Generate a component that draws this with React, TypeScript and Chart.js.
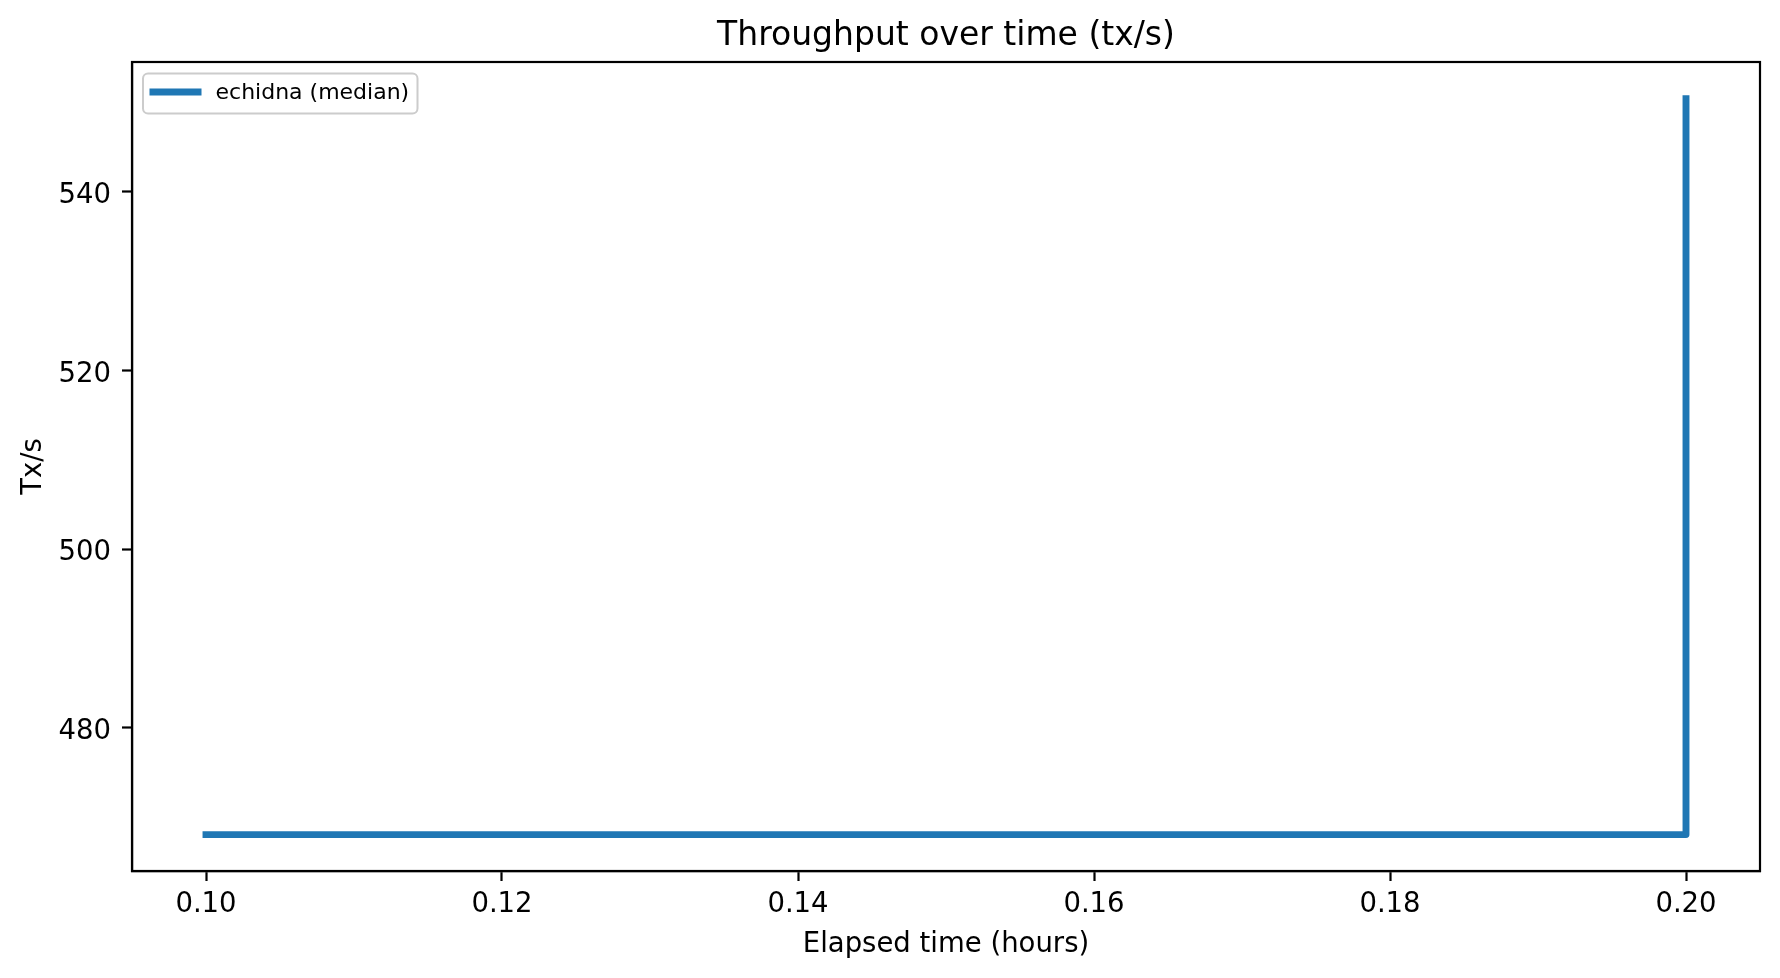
import React, { useEffect, useRef } from "react";
import { Chart, registerables } from "chart.js";

Chart.register(...registerables);

// ---- data ----
const timeHours = [0.1, 0.2, 0.2];
const txPerSec = [468.07, 468.07, 550.4];
const xTickValues = [0.1, 0.12, 0.14, 0.16, 0.18, 0.2];
const yTickValues = [480, 500, 520, 540];
const seriesLabel = "echidna (median)";
const chartTitle = "Throughput over time (tx/s)";
const xAxisTitle = "Elapsed time (hours)";
const yAxisTitle = "Tx/s";

const FONT = "'DejaVu Sans', sans-serif";
const LINE_COLOR = "#1f77b4";

const framePlugin = {
  id: "frame",
  afterDatasetsDraw(chart: any) {
    const { ctx, chartArea } = chart;
    ctx.save();
    ctx.strokeStyle = "#000";
    ctx.lineWidth = 2.2;
    ctx.strokeRect(
      chartArea.left,
      chartArea.top,
      chartArea.right - chartArea.left,
      chartArea.bottom - chartArea.top
    );
    ctx.restore();
  },
};

const insideLegendPlugin = {
  id: "insideLegend",
  afterDraw(chart: any) {
    const { ctx, chartArea } = chart;
    const ds = chart.data.datasets[0];
    const x0 = chartArea.left + 11;
    const y0 = chartArea.top + 11.5;
    const w = 274.5;
    const h = 40;
    ctx.save();
    ctx.beginPath();
    ctx.roundRect(x0, y0, w, h, 5);
    ctx.fillStyle = "rgba(255,255,255,0.8)";
    ctx.fill();
    ctx.strokeStyle = "#cccccc";
    ctx.lineWidth = 2;
    ctx.stroke();
    // handle
    ctx.beginPath();
    ctx.strokeStyle = ds.borderColor;
    ctx.lineWidth = ds.borderWidth;
    ctx.lineCap = "butt";
    ctx.moveTo(x0 + 6.5, y0 + 18.5);
    ctx.lineTo(x0 + 58.5, y0 + 18.5);
    ctx.stroke();
    // text
    ctx.fillStyle = "#000";
    ctx.font = `22px ${FONT}`;
    ctx.textBaseline = "alphabetic";
    ctx.textAlign = "left";
    ctx.fillText(ds.label, x0 + 72.5, y0 + 25.5);
    ctx.restore();
  },
};

export default function App() {
  const canvasRef = useRef<HTMLCanvasElement | null>(null);

  useEffect(() => {
    document.body.style.margin = "0";
    document.body.style.overflow = "hidden";
    const canvas = canvasRef.current;
    if (!canvas) return;
    const points = timeHours.map((t, i) => ({ x: t, y: txPerSec[i] }));
    const chart = new Chart(canvas, {
      type: "line",
      data: {
        datasets: [
          {
            label: seriesLabel,
            data: points,
            borderColor: LINE_COLOR,
            backgroundColor: LINE_COLOR,
            borderWidth: 6.9,
            borderCapStyle: "square",
            borderJoinStyle: "round",
            pointRadius: 0,
            fill: false,
            tension: 0,
          },
        ],
      },
      options: {
        animation: false,
        responsive: false,
        devicePixelRatio: 1,
        layout: { padding: { left: 0, right: 20, top: 0, bottom: 0 } },
        plugins: {
          legend: { display: false },
          tooltip: { enabled: false },
          title: {
            display: true,
            text: chartTitle,
            color: "#000",
            fullSize: false,
            font: { family: FONT, size: 33, weight: "normal" },
            padding: { top: 16.6, bottom: 5.8 },
          },
        },
        scales: {
          x: {
            type: "linear",
            position: "bottom",
            min: 0.095,
            max: 0.205,
            afterBuildTicks: (scale: any) => {
              scale.ticks = xTickValues.map((v) => ({ value: v }));
            },
            afterFit: (scale: any) => {
              scale.height = 107;
            },
            ticks: {
              color: "#000",
              font: { family: FONT, size: 27.5 },
              padding: 7.7,
              maxRotation: 0,
              autoSkip: false,
              callback: (v: any) => Number(v).toFixed(2),
            },
            grid: {
              display: true,
              drawOnChartArea: false,
              drawTicks: true,
              tickLength: 10,
              tickColor: "#000",
              tickWidth: 2.2,
            },
            border: { display: true, color: "#000", width: 2.2 },
            title: {
              display: true,
              text: xAxisTitle,
              color: "#000",
              font: { family: FONT, size: 27.5 },
              padding: { top: 0, bottom: 16.8 },
            },
          },
          y: {
            type: "linear",
            position: "left",
            min: 464.0,
            max: 554.5,
            afterBuildTicks: (scale: any) => {
              scale.ticks = yTickValues.map((v) => ({ value: v }));
            },
            afterFit: (scale: any) => {
              scale.width = 132;
            },
            ticks: {
              color: "#000",
              font: { family: FONT, size: 27.5 },
              padding: 11,
              labelOffset: 4,
              autoSkip: false,
              callback: (v: any) => String(v),
            },
            grid: {
              display: true,
              drawOnChartArea: false,
              drawTicks: true,
              tickLength: 10,
              tickColor: "#000",
              tickWidth: 2.2,
            },
            border: { display: true, color: "#000", width: 2.2 },
            title: {
              display: true,
              text: yAxisTitle,
              color: "#000",
              font: { family: FONT, size: 27.5 },
              padding: { top: 17.5, bottom: 0 },
            },
          },
        },
      },
      plugins: [framePlugin, insideLegendPlugin],
    } as any);
    return () => chart.destroy();
  }, []);

  return (
    <div style={{ width: 1780, height: 978, background: "#fff" }}>
      <canvas ref={canvasRef} width={1780} height={978} style={{ display: "block" }} />
    </div>
  );
}
